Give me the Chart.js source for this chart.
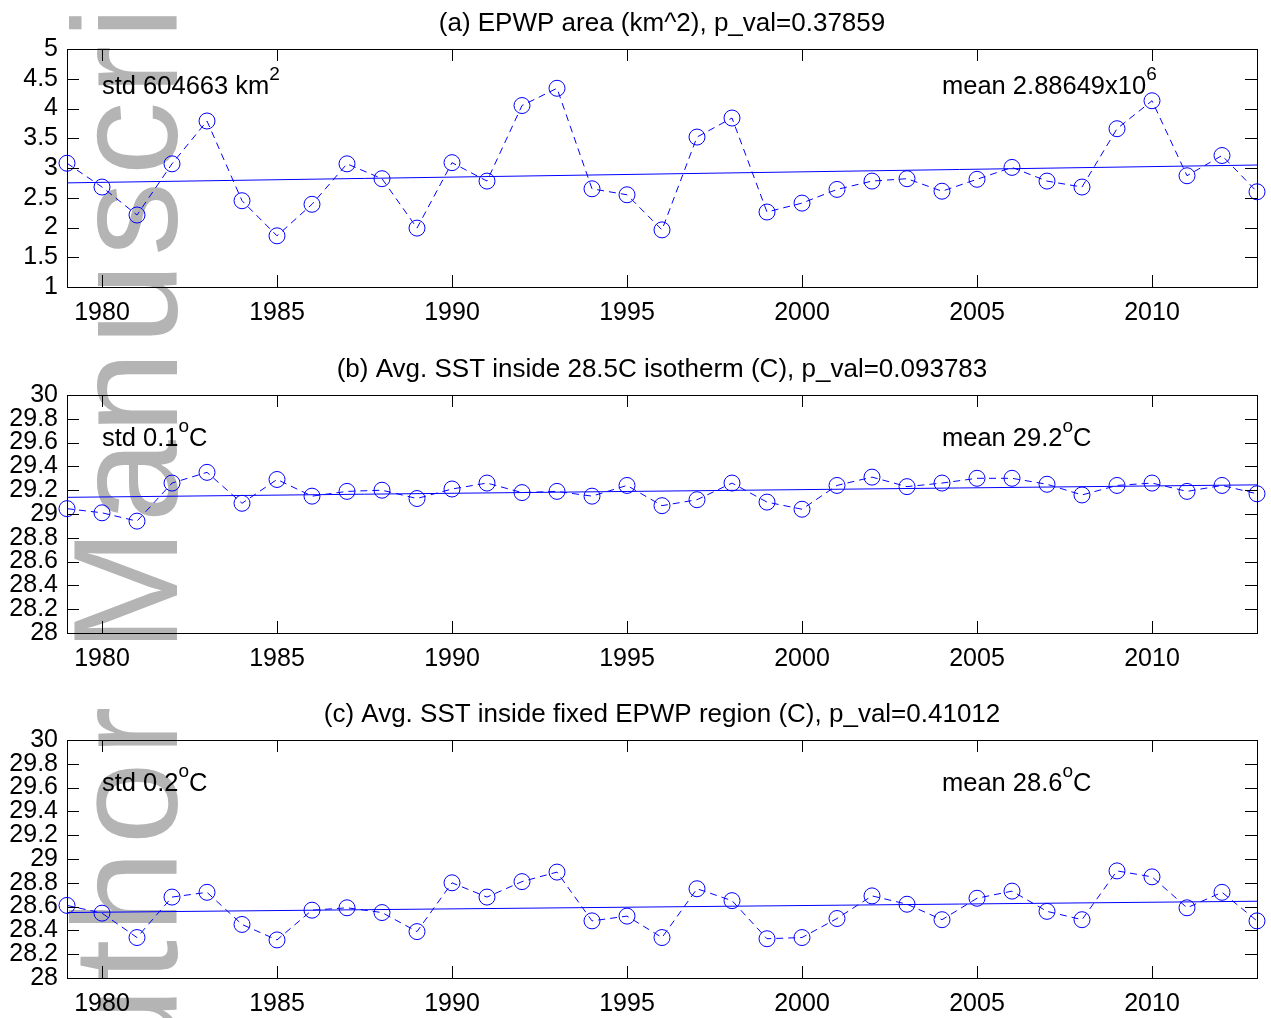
<!DOCTYPE html>
<html>
<head>
<meta charset="utf-8">
<script src="https://cdn.jsdelivr.net/npm/chart.js@4.4.1/dist/chart.umd.min.js"></script>
<style>
  html, body { margin: 0; padding: 0; background: #fff; }
  #page { position: relative; width: 1271px; height: 1018px; overflow: hidden; }
  .wm {
    position: absolute; left: 52px; top: 1175px;
    transform-origin: 0 0; transform: rotate(-90deg);
    font: 148px "Liberation Sans", Arial, sans-serif; line-height: 1;
    letter-spacing: 6.5px; color: #b4b4b4; white-space: nowrap;
  }
  .panel { position: absolute; left: 0; width: 1271px; }
  canvas { display: block; }
</style>
</head>
<body>
<div id="page">
  <div class="wm">Author Manuscript</div>
  <div class="panel" style="top:0"><canvas id="chartA" width="1271" height="345"></canvas></div>
  <div class="panel" style="top:346px"><canvas id="chartB" width="1271" height="345"></canvas></div>
  <div class="panel" style="top:691px"><canvas id="chartC" width="1271" height="327"></canvas></div>
</div>
<script>
const years = [1979, 1980, 1981, 1982, 1983, 1984, 1985, 1986, 1987, 1988,
  1989, 1990, 1991, 1992, 1993, 1994, 1995, 1996, 1997, 1998,
  1999, 2000, 2001, 2002, 2003, 2004, 2005, 2006, 2007, 2008,
  2009, 2010, 2011, 2012, 2013];

// EPWP area, 10^6 km^2
const epwpArea = [3.08, 2.68, 2.21, 3.07, 3.79, 2.45, 1.86, 2.39, 3.07, 2.82,
  1.99, 3.09, 2.78, 4.05, 4.34, 2.65, 2.55, 1.96, 3.52, 3.84,
  2.26, 2.41, 2.64, 2.78, 2.82, 2.61, 2.81, 3.01, 2.78, 2.68,
  3.66, 4.13, 2.87, 3.21, 2.60];

// mean SST inside the 28.5C isotherm
const sstIsotherm = [29.045, 29.01, 28.94, 29.26, 29.35, 29.09, 29.29, 29.15, 29.19, 29.20,
  29.13, 29.21, 29.26, 29.18, 29.19, 29.15, 29.24, 29.07, 29.12, 29.26,
  29.10, 29.04, 29.24, 29.31, 29.23, 29.26, 29.30, 29.30, 29.25, 29.16,
  29.24, 29.26, 29.19, 29.24, 29.17];

// mean SST inside the fixed EPWP box
const sstFixed = [28.61, 28.545, 28.34, 28.68, 28.72, 28.45, 28.32, 28.57, 28.59, 28.55,
  28.39, 28.80, 28.68, 28.81, 28.89, 28.48, 28.52, 28.34, 28.75, 28.65,
  28.33, 28.34, 28.50, 28.69, 28.62, 28.49, 28.67, 28.73, 28.56, 28.49,
  28.90, 28.85, 28.59, 28.72, 28.48];

// linear fits, value at first and last year
const trendArea = [2.75, 3.05];
const trendIsotherm = [29.14, 29.245];
const trendFixed = [28.55, 28.645];

const xTicks = [1980, 1985, 1990, 1995, 2000, 2005, 2010];
const yTicksArea = [1, 1.5, 2, 2.5, 3, 3.5, 4, 4.5, 5];
const yTicksSST = [28, 28.2, 28.4, 28.6, 28.8, 29, 29.2, 29.4, 29.6, 29.8, 30];

const FONT = '"Liberation Sans", Arial, sans-serif';
const BLUE = '#0000ff';

// draws a label made of normal and superscript pieces
function drawRich(ctx, parts, x, y) {
  let cx = x;
  parts.forEach(p => {
    ctx.font = (p.sup ? '19px ' : '25.5px ') + FONT;
    ctx.fillText(p.text, cx, p.sup ? y - 14 : y);
    cx += ctx.measureText(p.text).width;
  });
}

// title, box with inward ticks on all four sides, plus the std / mean notes
const boxPlugin = {
  id: 'boxTicks',
  afterDraw(chart, args, opts) {
    const { ctx, chartArea: a, scales } = chart;
    const xs = scales.x, ys = scales.y;
    const tl = 12;
    ctx.save();
    ctx.strokeStyle = '#000';
    ctx.lineWidth = 1;
    ctx.beginPath();
    xTicks.forEach(v => {
      const px = Math.round(xs.getPixelForValue(v)) + 0.5;
      ctx.moveTo(px, a.bottom); ctx.lineTo(px, a.bottom - tl);
      ctx.moveTo(px, a.top); ctx.lineTo(px, a.top + tl);
    });
    opts.yTicks.forEach(v => {
      const py = Math.round(ys.getPixelForValue(v)) + 0.5;
      ctx.moveTo(a.left, py); ctx.lineTo(a.left + tl, py);
      ctx.moveTo(a.right, py); ctx.lineTo(a.right - tl, py);
    });
    ctx.stroke();
    ctx.strokeRect(Math.round(a.left) + 0.5, Math.round(a.top) + 0.5,
      Math.round(a.right - a.left), Math.round(a.bottom - a.top));

    ctx.fillStyle = '#000';
    ctx.textBaseline = 'alphabetic';
    ctx.textAlign = 'center';
    ctx.font = '26px ' + FONT;
    ctx.fillText(opts.title, (a.left + a.right) / 2, a.top - 18);

    ctx.textAlign = 'left';
    opts.notes.forEach(n => {
      drawRich(ctx, n.parts, xs.getPixelForValue(n.x), ys.getPixelForValue(n.y) + 9);
    });
    ctx.restore();
  }
};

function makePanel(id, title, values, trend, yMin, yMax, yTicks, notes, padBottom) {
  const tickFont = { family: FONT, size: 25 };
  return new Chart(document.getElementById(id), {
    type: 'line',
    data: {
      datasets: [
        {
          data: years.map((yr, i) => ({ x: yr, y: values[i] })),
          borderColor: BLUE,
          borderWidth: 1,
          borderDash: [7, 5],
          pointStyle: 'circle',
          pointRadius: 8,
          pointBorderWidth: 1,
          pointBorderColor: BLUE,
          pointBackgroundColor: 'rgba(0,0,0,0)',
          tension: 0,
          fill: false,
          clip: false
        },
        {
          data: [{ x: years[0], y: trend[0] }, { x: years[years.length - 1], y: trend[1] }],
          borderColor: BLUE,
          borderWidth: 1,
          pointRadius: 0,
          tension: 0,
          fill: false,
          clip: false
        }
      ]
    },
    options: {
      responsive: false,
      animation: false,
      devicePixelRatio: 1,
      layout: { padding: { left: 0, right: 14, top: 49, bottom: padBottom } },
      plugins: {
        legend: { display: false },
        tooltip: { enabled: false },
        title: { display: false },
        boxTicks: { title: title, yTicks: yTicks, notes: notes }
      },
      scales: {
        x: {
          type: 'linear',
          min: years[0],
          max: years[years.length - 1],
          grid: { display: false, drawTicks: false },
          border: { display: false },
          ticks: {
            color: '#000', font: tickFont, padding: 11,
            maxRotation: 0, autoSkip: false,
            callback: v => String(v)
          },
          afterBuildTicks: s => { s.ticks = xTicks.map(v => ({ value: v })); },
          afterFit: s => { s.height = 40; }
        },
        y: {
          min: yMin,
          max: yMax,
          grid: { display: false, drawTicks: false },
          border: { display: false },
          ticks: {
            color: '#000', font: tickFont, padding: 9, autoSkip: false,
            callback: v => String(v)
          },
          afterBuildTicks: s => { s.ticks = yTicks.map(v => ({ value: v })); },
          afterFit: s => { s.width = 67; }
        }
      }
    },
    plugins: [boxPlugin]
  });
}

makePanel('chartA', '(a) EPWP area (km^2), p_val=0.37859',
  epwpArea, trendArea, 1, 5, yTicksArea, [
    { x: 1980, y: 4.4, parts: [{ text: 'std 604663 km' }, { text: '2', sup: true }] },
    { x: 2004, y: 4.4, parts: [{ text: 'mean 2.88649x10' }, { text: '6', sup: true }] }
  ], 18);

makePanel('chartB', '(b) Avg. SST inside 28.5C isotherm (C), p_val=0.093783',
  sstIsotherm, trendIsotherm, 28, 30, yTicksSST, [
    { x: 1980, y: 29.65, parts: [{ text: 'std 0.1' }, { text: 'o', sup: true }, { text: 'C' }] },
    { x: 2004, y: 29.65, parts: [{ text: 'mean 29.2' }, { text: 'o', sup: true }, { text: 'C' }] }
  ], 18);

makePanel('chartC', '(c) Avg. SST inside fixed EPWP region (C), p_val=0.41012',
  sstFixed, trendFixed, 28, 30, yTicksSST, [
    { x: 1980, y: 29.65, parts: [{ text: 'std 0.2' }, { text: 'o', sup: true }, { text: 'C' }] },
    { x: 2004, y: 29.65, parts: [{ text: 'mean 28.6' }, { text: 'o', sup: true }, { text: 'C' }] }
  ], 0);
</script>
</body>
</html>
